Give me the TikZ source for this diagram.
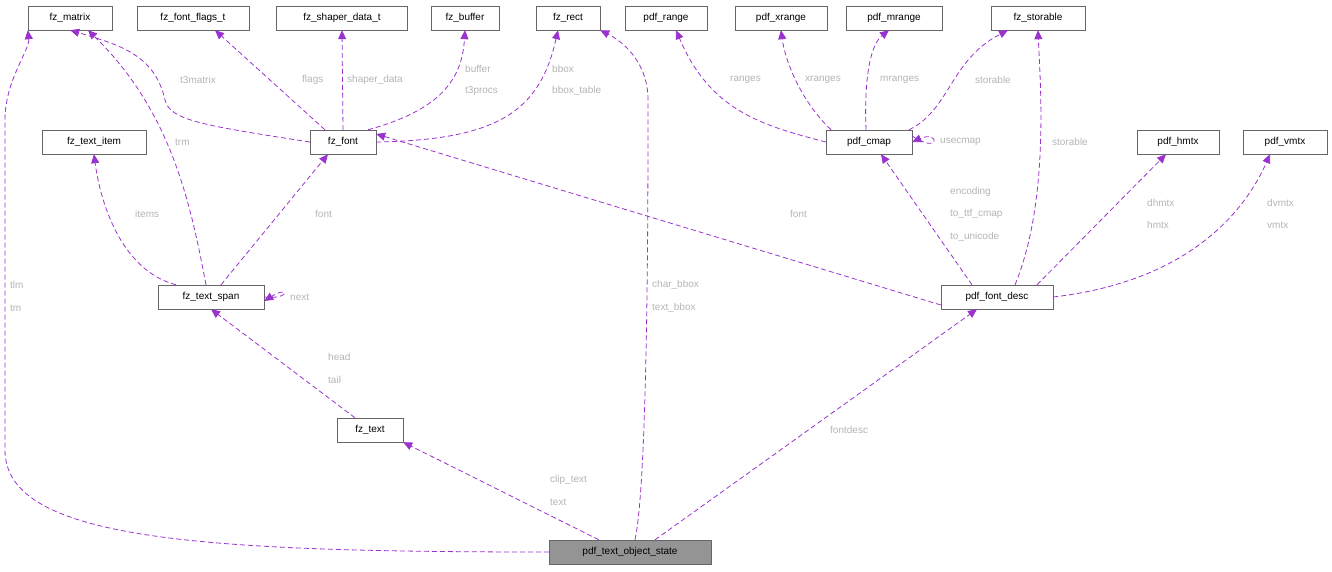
\documentclass[tikz,border=0pt]{standalone}
\usepackage{fontspec}
\setmainfont{Liberation Sans}
\usetikzlibrary{arrows.meta}
\definecolor{edge}{HTML}{9A32CD}
\definecolor{lab}{HTML}{B4B4B4}
\begin{document}
\begin{tikzpicture}[x=1pt,y=-1pt,
  box/.style={draw=black!60,fill=white,minimum height=24pt,inner sep=0pt,font=\fontsize{10}{12}\selectfont},
  ed/.style={draw=edge,dashed,dash pattern=on 5pt off 3pt,-{Triangle[length=9pt,width=8pt]},line width=0.8pt},
  lb/.style={anchor=west,text=lab,font=\fontsize{10}{12}\selectfont,inner sep=0pt}]
\useasboundingbox (0,0) rectangle (1332,572);
\node[box,minimum width=84pt] (mat) at (70,18) {fz\_matrix};
\node[box,minimum width=112pt] (flags) at (193,18) {fz\_font\_flags\_t};
\node[box,minimum width=131pt] (shp) at (342,18) {fz\_shaper\_data\_t};
\node[box,minimum width=68pt] (buf) at (465,18) {fz\_buffer};
\node[box,minimum width=64pt] (rect) at (568,18) {fz\_rect};
\node[box,minimum width=82pt] (rng) at (666,18) {pdf\_range};
\node[box,minimum width=92pt] (xrng) at (781,18) {pdf\_xrange};
\node[box,minimum width=96pt] (mrng) at (894,18) {pdf\_mrange};
\node[box,minimum width=94pt] (sto) at (1038,18) {fz\_storable};
\node[box,minimum width=104pt] (item) at (94,142) {fz\_text\_item};
\node[box,minimum width=66pt] (font) at (343,142) {fz\_font};
\node[box,minimum width=86pt] (cmap) at (869,142) {pdf\_cmap};
\node[box,minimum width=82pt] (hmtx) at (1178,142) {pdf\_hmtx};
\node[box,minimum width=84pt] (vmtx) at (1285,142) {pdf\_vmtx};
\node[box,minimum width=106pt] (span) at (211,297) {fz\_text\_span};
\node[box,minimum width=112pt] (desc) at (997,297) {pdf\_font\_desc};
\node[box,minimum width=66pt] (text) at (370,430) {fz\_text};
\node[box,minimum width=162pt,fill=black!42] (st) at (630,552) {pdf\_text\_object\_state};

\draw[ed] (st.west) .. controls (200,552) and (5,540) .. (5,450) -- (5,120) .. controls (5,80) and (30,50) .. (mat.south west);
\node[lb] at (10,285) {tlm}; \node[lb] at (10,308) {tm};
\draw[ed] (st.north west) ++(50,0) -- (text.south east);
\node[lb] at (550,480) {clip\_text}; \node[lb] at (550,502) {text};
\draw[ed] ([xshift=5pt]st.north) .. controls (648,480) and (648,200) .. (648,100) .. controls (648,60) and (620,40) .. (rect.south east);
\node[lb] at (652,285) {char\_bbox}; \node[lb] at (652,308) {text\_bbox};
\draw[ed] ([xshift=25pt]st.north) -- ([xshift=-20pt]desc.south);
\node[lb] at (830,430) {fontdesc};
\draw[ed] ([xshift=-15pt]text.north) -- (span.south);
\node[lb] at (328,357) {head}; \node[lb] at (328,380) {tail};
\draw[ed] ([xshift=-35pt]span.north) .. controls (120,270) and (100,200) .. (item.south);
\node[lb] at (135,214) {items};
\draw[ed] ([xshift=-5pt]span.north) .. controls (190,200) and (170,110) .. ([xshift=18pt]mat.south);
\node[lb] at (175,142) {trm};
\draw[ed] ([xshift=10pt]span.north) -- ([xshift=-15pt]font.south);
\node[lb] at (315,214) {font};
\draw[ed] (span.east) .. controls (290,300) and (290,285) .. ([yshift=-4pt]span.east);
\node[lb] at (290,297) {next};
\draw[ed] (font.west) .. controls (200,125) and (170,120) .. (165,100) .. controls (155,55) and (120,45) .. ([xshift=-42pt]mat.south east);
\node[lb] at (180,80) {t3matrix};
\draw[ed] ([xshift=-18pt]font.north) -- ([xshift=22pt]flags.south);
\node[lb] at (302,80) {flags};
\draw[ed] (font.north) -- (shp.south);
\node[lb] at (347,80) {shaper\_data};
\draw[ed] ([xshift=25pt]font.north) .. controls (440,110) and (462,80) .. (buf.south);
\node[lb] at (465,69) {buffer}; \node[lb] at (465,91) {t3procs};
\draw[ed] (font.east) .. controls (500,140) and (540,110) .. ([xshift=-10pt]rect.south);
\node[lb] at (552,69) {bbox}; \node[lb] at (552,91) {bbox\_table};
\draw[ed] ([yshift=-8pt]desc.west) -- ([yshift=8pt]font.east);
\node[lb] at (790,214) {font};
\draw[ed] ([xshift=-25pt]desc.north) -- ([xshift=12pt]cmap.south);
\node[lb] at (950,192) {encoding}; \node[lb] at (950,214) {to\_ttf\_cmap}; \node[lb] at (950,237) {to\_unicode};
\draw[ed] ([xshift=18pt]desc.north) .. controls (1050,200) and (1040,80) .. (sto.south);
\node[lb] at (1052,142) {storable};
\draw[ed] ([xshift=40pt]desc.north) -- ([xshift=-12pt]hmtx.south);
\node[lb] at (1147,203) {dhmtx}; \node[lb] at (1147,225) {hmtx};
\draw[ed] (desc.east) .. controls (1200,280) and (1250,200) .. ([xshift=-15pt]vmtx.south);
\node[lb] at (1267,203) {dvmtx}; \node[lb] at (1267,225) {vmtx};
\draw[ed] (cmap.west) .. controls (760,125) and (710,110) .. ([xshift=10pt]rng.south);
\node[lb] at (730,80) {ranges};
\draw[ed] ([xshift=-38pt]cmap.north) .. controls (800,100) and (785,60) .. (xrng.south);
\node[lb] at (805,80) {xranges};
\draw[ed] ([xshift=-3pt]cmap.north) .. controls (864,80) and (870,45) .. ([xshift=-5pt]mrng.south);
\node[lb] at (880,80) {mranges};
\draw[ed] ([xshift=40pt]cmap.north) .. controls (950,110) and (950,60) .. ([xshift=-30pt]sto.south);
\node[lb] at (975,80) {storable};
\draw[ed] ([yshift=6pt]cmap.east) .. controls (940,155) and (940,130) .. (cmap.east);
\node[lb] at (940,142) {usecmap};
\end{tikzpicture}
\end{document}
